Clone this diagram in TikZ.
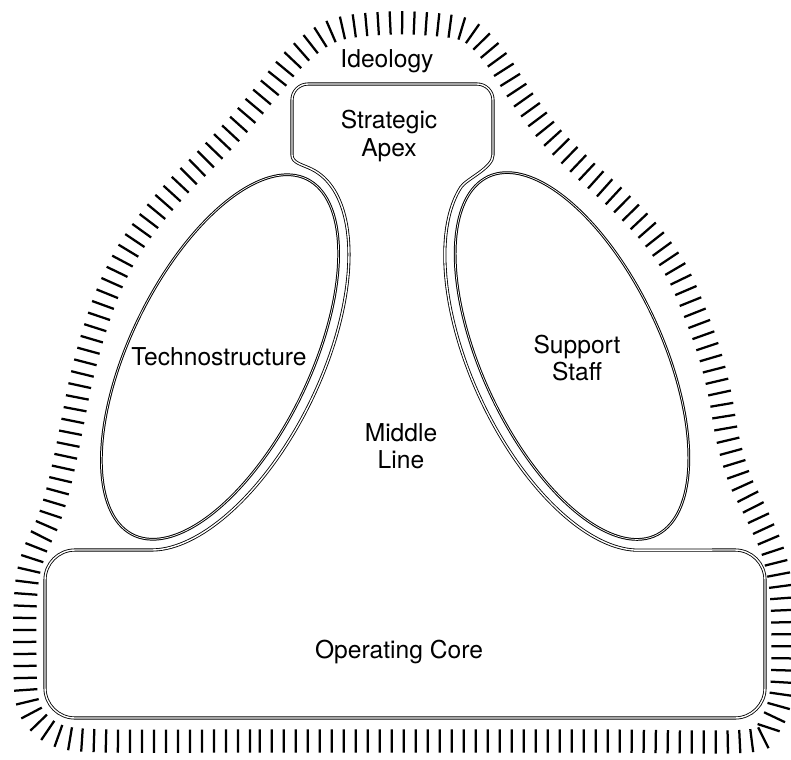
\documentclass[tikz,border=0pt]{standalone}
\usepackage{fontspec}
\setmainfont{TeX Gyre Heros}
\usetikzlibrary{decorations.pathreplacing}
\tikzset{
  outline/.style={draw=black, double=white, line width=0.6pt, double distance=1.0pt, line join=round},
  unitoval/.style={draw=black, double=white, line width=0.7pt, double distance=0.5pt},
  ideo/.style={draw=black, line width=1.6pt, decorate, decoration={ticks, segment length=0.3cm, amplitude=0.29cm}},
  lbl/.style={font=\fontsize{17.5}{19.5}\selectfont, align=center, inner sep=0pt}
}
\begin{document}
\begin{tikzpicture}[x=0.025cm, y=-0.025cm]
\useasboundingbox (0,0) rectangle (791,759);
% ideology ticks
\path[ideo] plot[smooth cycle, tension=0.55] coordinates {
 (400,741) (250,741) (110,741) (62,737) (38,722) (27,700) (25,660) (25,610) (28,575) (36,548) (48,522)
 (58,490) (66,455) (73,420) (81,380) (93,335) (108,292) (127,253) (152,217) (180,185) (210,155)
 (240,123) (268,90) (298,55) (335,30) (390,23) (440,25) (470,32) (495,57) (520,95) (550,135)
 (585,170) (620,202) (652,236) (677,272) (695,313) (710,355) (720,395) (728,440) (740,480)
 (757,515) (773,552) (781,590) (783,640) (781,695) (770,725) (748,741) (600,741)};
% technostructure
\draw[unitoval] plot[domain=0:360, samples=140, smooth, variable=\t]
  ({220 + 86.80*cos(\t) + 80.89*sin(\t)}, {357 - 177.96*cos(\t) + 39.46*sin(\t)}) -- cycle;
% support staff
\draw[unitoval] plot[domain=0:360, samples=140, smooth, variable=\t]
  ({572 - 83.67*cos(\t) - 81.57*sin(\t)}, {356 - 179.45*cos(\t) + 38.03*sin(\t)}) -- cycle;
% apex + middle line + operating core outline
\draw[outline] (308,84) -- (477,84) arc[start angle=-90, end angle=0, radius=16] -- (493,155)
  .. controls (493,168) and (466.2,178.9) .. (460.8,187.3)
  -- plot[domain=17:167.3, samples=80, variable=\t]
     ({572 - 88.32*cos(\t) - 91.54*sin(\t)}, {356 - 189.42*cos(\t) + 42.68*sin(\t)})
  -- (735,550) arc[start angle=-90, end angle=0, radius=30] -- (765,688)
  arc[start angle=0, end angle=90, radius=30] -- (75,718)
  arc[start angle=90, end angle=180, radius=30] -- (45,580)
  arc[start angle=180, end angle=270, radius=30] -- (150.1,550)
  -- plot[domain=167.5:0, samples=80, variable=\t]
     ({220 + 91.63*cos(\t) + 90.78*sin(\t)}, {357 - 187.85*cos(\t) + 44.28*sin(\t)})
  .. controls (302.6,164.6) and (292,163) .. (292,155) -- (292,100)
  arc[start angle=180, end angle=270, radius=16] -- cycle;
% labels
\node[lbl] (ideology) at (387,61) {Ideology};
\node[lbl] (apex) at (389,136) {Strategic\\Apex};
\node[lbl] (techno) at (219,357) {Technostructure};
\node[lbl] (support) at (577,358) {Support\\Staff};
\node[lbl] (middle) at (401,446) {Middle\\Line};
\node[lbl] (core) at (399,652) {Operating Core};
\end{tikzpicture}
\end{document}
